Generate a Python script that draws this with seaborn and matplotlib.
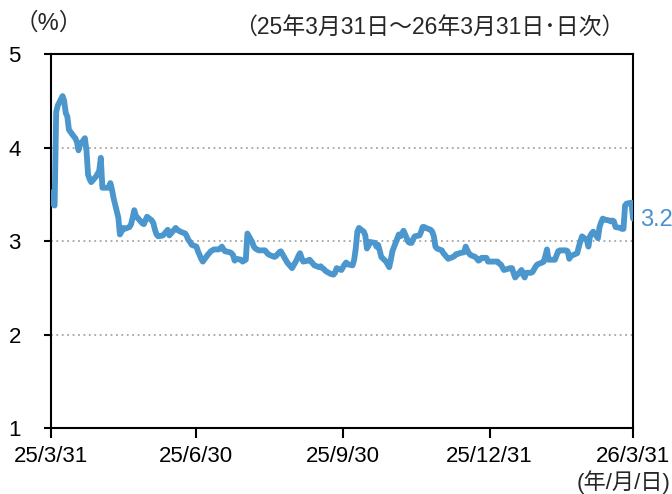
import pandas as pd
import matplotlib.pyplot as plt
import seaborn as sns

# daily yield (%)
dates = [
    "2025-03-31", "2025-04-01", "2025-04-02", "2025-04-03", "2025-04-04", "2025-04-07", "2025-04-08",
    "2025-04-09", "2025-04-10", "2025-04-11", "2025-04-14", "2025-04-15", "2025-04-16", "2025-04-17",
    "2025-04-18", "2025-04-21", "2025-04-22", "2025-04-23", "2025-04-24", "2025-04-25", "2025-04-28",
    "2025-04-30", "2025-05-01", "2025-05-02", "2025-05-06", "2025-05-07", "2025-05-08", "2025-05-09",
    "2025-05-12", "2025-05-13", "2025-05-14", "2025-05-15", "2025-05-16", "2025-05-19", "2025-05-20",
    "2025-05-21", "2025-05-22", "2025-05-23", "2025-05-26", "2025-05-27", "2025-05-28", "2025-05-29",
    "2025-05-30", "2025-06-02", "2025-06-03", "2025-06-04", "2025-06-05", "2025-06-06", "2025-06-09",
    "2025-06-10", "2025-06-11", "2025-06-12", "2025-06-13", "2025-06-16", "2025-06-17", "2025-06-18",
    "2025-06-19", "2025-06-20", "2025-06-23", "2025-06-24", "2025-06-25", "2025-06-26", "2025-06-27",
    "2025-06-30", "2025-07-01", "2025-07-02", "2025-07-03", "2025-07-04", "2025-07-07", "2025-07-08",
    "2025-07-09", "2025-07-10", "2025-07-11", "2025-07-14", "2025-07-15", "2025-07-16", "2025-07-17",
    "2025-07-18", "2025-07-21", "2025-07-22", "2025-07-23", "2025-07-24", "2025-07-25", "2025-07-28",
    "2025-07-29", "2025-07-30", "2025-07-31", "2025-08-01", "2025-08-04", "2025-08-05", "2025-08-06",
    "2025-08-07", "2025-08-08", "2025-08-12", "2025-08-13", "2025-08-14", "2025-08-15", "2025-08-18",
    "2025-08-19", "2025-08-20", "2025-08-21", "2025-08-22", "2025-08-25", "2025-08-26", "2025-08-27",
    "2025-08-28", "2025-08-29", "2025-09-01", "2025-09-02", "2025-09-03", "2025-09-04", "2025-09-05",
    "2025-09-08", "2025-09-09", "2025-09-10", "2025-09-11", "2025-09-12", "2025-09-15", "2025-09-16",
    "2025-09-17", "2025-09-18", "2025-09-19", "2025-09-22", "2025-09-24", "2025-09-25", "2025-09-26",
    "2025-09-29", "2025-09-30", "2025-10-01", "2025-10-02", "2025-10-03", "2025-10-06", "2025-10-07",
    "2025-10-08", "2025-10-09", "2025-10-10", "2025-10-13", "2025-10-14", "2025-10-15", "2025-10-16",
    "2025-10-17", "2025-10-20", "2025-10-21", "2025-10-22", "2025-10-23", "2025-10-24", "2025-10-27",
    "2025-10-28", "2025-10-29", "2025-10-30", "2025-10-31", "2025-11-04", "2025-11-05", "2025-11-06",
    "2025-11-07", "2025-11-10", "2025-11-11", "2025-11-12", "2025-11-13", "2025-11-14", "2025-11-17",
    "2025-11-18", "2025-11-19", "2025-11-20", "2025-11-21", "2025-11-24", "2025-11-25", "2025-11-26",
    "2025-11-27", "2025-11-28", "2025-12-01", "2025-12-02", "2025-12-03", "2025-12-04", "2025-12-05",
    "2025-12-08", "2025-12-09", "2025-12-10", "2025-12-11", "2025-12-12", "2025-12-15", "2025-12-16",
    "2025-12-17", "2025-12-18", "2025-12-19", "2025-12-22", "2025-12-23", "2025-12-24", "2025-12-25",
    "2025-12-26", "2025-12-29", "2025-12-30", "2026-01-05", "2026-01-06", "2026-01-07", "2026-01-08",
    "2026-01-09", "2026-01-13", "2026-01-14", "2026-01-15", "2026-01-16", "2026-01-19", "2026-01-20",
    "2026-01-21", "2026-01-22", "2026-01-23", "2026-01-26", "2026-01-27", "2026-01-28", "2026-01-29",
    "2026-01-30", "2026-02-02", "2026-02-03", "2026-02-04", "2026-02-05", "2026-02-06", "2026-02-09",
    "2026-02-10", "2026-02-12", "2026-02-13", "2026-02-16", "2026-02-17", "2026-02-18", "2026-02-19",
    "2026-02-20", "2026-02-24", "2026-02-25", "2026-02-26", "2026-02-27", "2026-03-02", "2026-03-03",
    "2026-03-04", "2026-03-05", "2026-03-06", "2026-03-09", "2026-03-10", "2026-03-11", "2026-03-12",
    "2026-03-13", "2026-03-16", "2026-03-17", "2026-03-18", "2026-03-19", "2026-03-20", "2026-03-23",
    "2026-03-24", "2026-03-25", "2026-03-26", "2026-03-27", "2026-03-30", "2026-03-31",
]
yields = [
    3.52, 3.40, 3.38, 4.38, 4.45, 4.55, 4.50,
    4.37, 4.33, 4.19, 4.12, 4.10, 4.06, 3.97,
    4.03, 4.10, 3.97, 3.71, 3.66, 3.63, 3.69,
    3.75, 3.89, 3.57, 3.57, 3.62, 3.55, 3.46,
    3.25, 3.07, 3.10, 3.14, 3.13, 3.15, 3.18,
    3.25, 3.33, 3.27, 3.21, 3.19, 3.18, 3.22,
    3.26, 3.22, 3.19, 3.12, 3.07, 3.05, 3.06,
    3.08, 3.10, 3.12, 3.06, 3.12, 3.14, 3.12,
    3.11, 3.10, 3.08, 3.05, 3.01, 2.99, 2.96,
    2.94, 2.89, 2.85, 2.81, 2.78, 2.85, 2.87,
    2.89, 2.90, 2.91, 2.91, 2.92, 2.94, 2.91,
    2.89, 2.88, 2.87, 2.85, 2.79, 2.81, 2.80,
    2.78, 2.79, 2.80, 3.08, 2.99, 2.94, 2.92,
    2.91, 2.90, 2.90, 2.88, 2.86, 2.85, 2.83,
    2.84, 2.86, 2.88, 2.89, 2.80, 2.77, 2.75,
    2.73, 2.71, 2.80, 2.84, 2.87, 2.82, 2.78,
    2.79, 2.80, 2.78, 2.76, 2.74, 2.72, 2.73,
    2.71, 2.70, 2.68, 2.65, 2.64, 2.66, 2.71,
    2.69, 2.72, 2.75, 2.77, 2.75, 2.74, 2.80,
    2.92, 3.10, 3.14, 3.10, 3.06, 2.92, 2.95,
    2.99, 2.98, 2.94, 2.96, 2.90, 2.83, 2.78,
    2.75, 2.72, 2.80, 2.89, 3.07, 3.05, 3.08,
    3.11, 2.99, 2.98, 2.98, 3.02, 3.05, 3.06,
    3.10, 3.15, 3.15, 3.14, 3.12, 3.10, 3.05,
    2.94, 2.92, 2.90, 2.87, 2.85, 2.83, 2.81,
    2.83, 2.84, 2.86, 2.86, 2.87, 2.88, 2.94,
    2.90, 2.87, 2.85, 2.83, 2.81, 2.79, 2.80,
    2.82, 2.82, 2.78, 2.78, 2.76, 2.75, 2.72,
    2.69, 2.71, 2.71, 2.66, 2.61, 2.67, 2.69,
    2.64, 2.61, 2.66, 2.66, 2.67, 2.70, 2.73,
    2.75, 2.77, 2.78, 2.84, 2.91, 2.80, 2.80,
    2.80, 2.89, 2.90, 2.90, 2.90, 2.89, 2.81,
    2.84, 2.87, 2.94, 3.00, 3.05, 3.01, 2.94,
    3.05, 3.08, 3.10, 3.03, 3.15, 3.20, 3.24,
    3.23, 3.22, 3.21, 3.22, 3.21, 3.15, 3.14,
    3.13, 3.13, 3.38, 3.40, 3.41, 3.24,
]

xtick_dates = ["2025-03-31", "2025-06-30", "2025-09-30", "2025-12-31", "2026-03-31"]
xtick_labels = ["25/3/31", "25/6/30", "25/9/30", "25/12/31", "26/3/31"]
yticks = [1, 2, 3, 4, 5]

line_color = "#4B96CD"

sns.set_style("white")
plt.rcParams['font.family'] = ['Liberation Sans', 'Noto Sans CJK JP']

df = pd.DataFrame({"date": pd.to_datetime(dates), "yield": yields})

fig = plt.figure(figsize=(6.72, 4.94), dpi=100)
ax = fig.add_axes([0.0765, 0.1336, 0.8655, 0.757])

sns.lineplot(data=df, x="date", y="yield", ax=ax, color=line_color,
             linewidth=4.2, solid_joinstyle='round', zorder=3)

ax.set_xlim(pd.Timestamp(xtick_dates[0]), pd.Timestamp(xtick_dates[-1]))
ax.set_ylim(yticks[0], yticks[-1])
ax.set_xticks(pd.to_datetime(xtick_dates))
ax.set_xticklabels(xtick_labels)
ax.set_yticks(yticks)
ax.set_xlabel("")
ax.set_ylabel("")

ax.yaxis.grid(True, linestyle=(0, (1, 2)), color="#a6a6a6", linewidth=1.3)
ax.xaxis.grid(False)
for s in ax.spines.values():
    s.set_visible(True)
    s.set_color("black")
    s.set_linewidth(1.5)

ax.tick_params(axis='y', left=True, direction='out', length=5, width=1.5,
               pad=17, labelsize=16, colors='black')
ax.tick_params(axis='x', bottom=True, direction='out', length=7, width=1.5,
               pad=6, labelsize=16, colors='black')

# last value label
ax.annotate(f"{yields[-1]:.1f}", xy=(df["date"].iloc[-1], yields[-1]),
            xytext=(5, -1), textcoords='offset points', ha='left', va='center',
            color="#4A90D0", fontsize=17, annotation_clip=False)

fig.text(49 / 672, 1 - 23 / 494, "（%）", ha='center', va='center', fontsize=17)
fig.text(429 / 672, 1 - 27 / 494, "（25年3月31日～26年3月31日･日次）",
         ha='center', va='center', fontsize=16.5)
fig.text(0.998, 1 - 482 / 494, "(年/月/日)", ha='right', va='center', fontsize=16)

fig.savefig("out.png", dpi=100)
